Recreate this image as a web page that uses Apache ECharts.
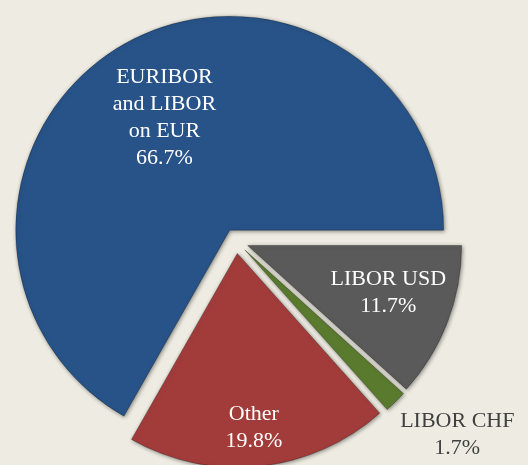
<!DOCTYPE html>
<html>
<head>
<meta charset="utf-8">
<script src="https://cdn.jsdelivr.net/npm/echarts@6/dist/echarts.min.js"></script>
<style>
  html, body { margin: 0; padding: 0; background: #eeece2; }
  #chart { width: 528px; height: 465px; }
</style>
</head>
<body>
<div id="chart"></div>
<script>
// slices in clockwise order, starting at 3 o'clock
const categories = ['LIBOR USD', 'LIBOR CHF', 'Other', 'EURIBOR\nand LIBOR\non EUR']
const shares = [11.7, 1.7, 19.8, 66.7]
const sliceColors = ['#5a5a5a', '#5a7a2e', '#a23c3b', '#285388']

// nudges to put each label where the original sits
const labelShift = [[38, 8], [135, 107], [5, 65], [-10, -17]]

const chart = echarts.init(document.getElementById('chart'))

const option = {
  backgroundColor: '#eeece2',
  series: [
    {
      type: 'pie',
      center: [236, 241],
      radius: 214,
      startAngle: 0,
      clockwise: true,
      selectedMode: 'multiple',
      selectedOffset: 12.5,
      animation: false,
      data: categories.map((name, i) => ({
        name: name,
        value: shares[i],
        selected: true,
        itemStyle: {
          color: sliceColors[i]
        },
        label: i === 1 ? { color: '#404040' } : {}
      })),
      itemStyle: {
        borderColor: 'rgba(0,0,0,0.25)',
        borderWidth: 1,
        shadowBlur: 4,
        shadowOffsetX: 1,
        shadowOffsetY: 1,
        shadowColor: 'rgba(0,0,0,0.45)'
      },
      label: {
        show: true,
        position: 'inside',
        color: '#ffffff',
        fontFamily: 'Liberation Serif',
        fontSize: 22,
        lineHeight: 27,
        align: 'center',
        formatter: p => p.name + '\n' + p.value.toFixed(1) + '%'
      },
      labelLine: { show: false },
      labelLayout: p => ({
        dx: labelShift[p.dataIndex][0],
        dy: labelShift[p.dataIndex][1]
      })
    }
  ]
}

chart.setOption(option)
</script>
</body>
</html>
